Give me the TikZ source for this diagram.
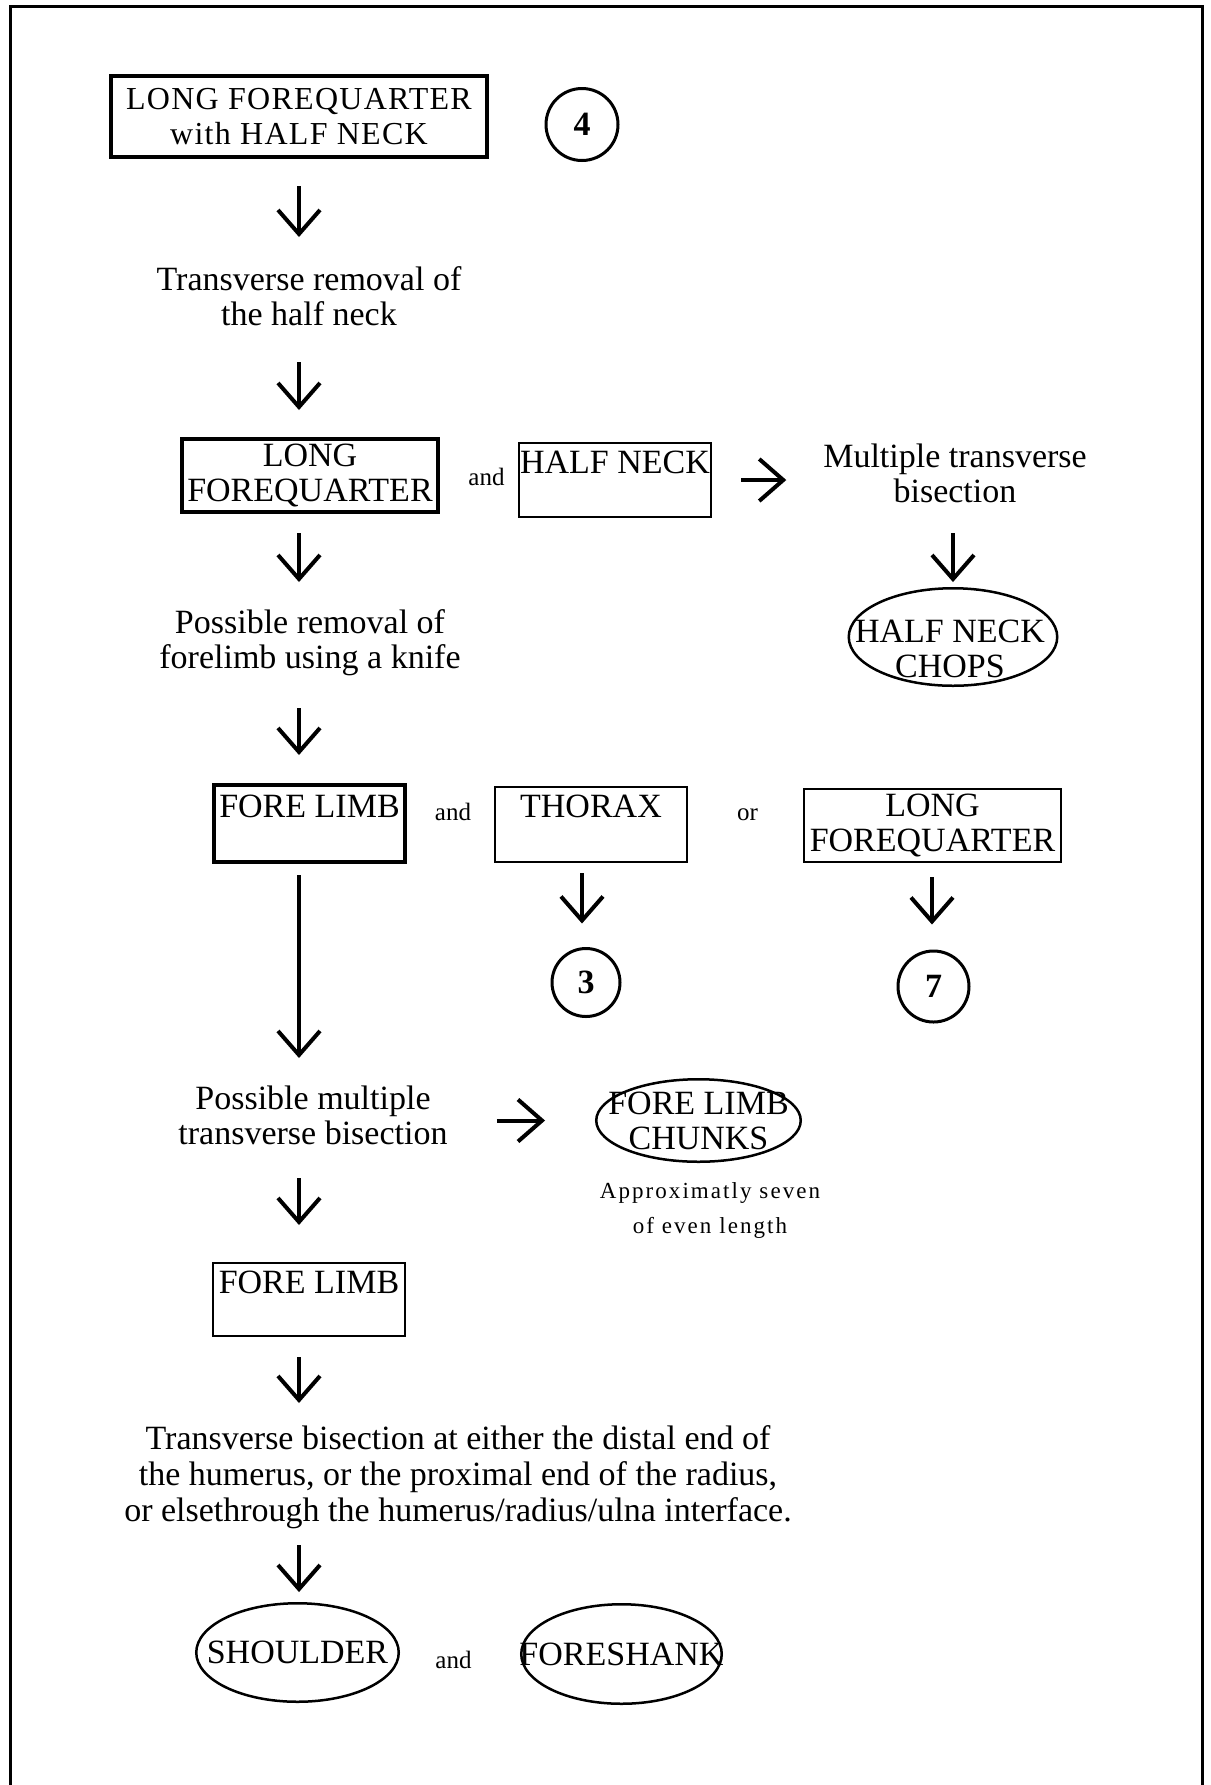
\documentclass[tikz,border=0pt]{standalone}
\usepackage{fontspec}
\setmainfont{Liberation Serif}
\usetikzlibrary{arrows.meta,shapes.geometric}
\begin{document}
\begin{tikzpicture}[x=0.5pt,y=-0.5pt,
  every node/.style={outer sep=0pt},
  big/.style={font=\fontsize{17pt}{17.5pt}\selectfont},
  txt/.style={big, align=center, inner sep=0pt},
  heavybox/.style={draw, line width=2pt, inner sep=0pt, big},
  lightbox/.style={draw, line width=1pt, inner sep=0pt, big},
  oval/.style={draw, ellipse, line width=1.25pt, inner xsep=-20pt, inner ysep=0pt, big, align=center},
  ring/.style={draw, circle, line width=1.5pt, inner sep=0pt, font=\fontsize{17pt}{17.5pt}\selectfont\bfseries},
  conj/.style={font=\fontsize{12.5pt}{13pt}\selectfont, inner sep=0pt, anchor=base},
  note/.style={font=\fontsize{11.5pt}{17.5pt}\selectfont\addfontfeature{LetterSpace=9}, align=center, inner sep=0pt},
  arr/.style={line width=2pt, -{Straight Barb[length=12pt,width=21pt]}}
]
\useasboundingbox (0,0) rectangle (1211,1785);
% page frame, open at the bottom
\draw[line width=1.5pt] (10.5,1800) -- (10.5,6) -- (1202,6) -- (1202,1800);

% column axes for the vertical connectors
\coordinate (colA) at (299,0);
\coordinate (colB) at (953,0);
\coordinate (colC) at (582,0);
\coordinate (colD) at (932,0);

% top of the chart
\node[heavybox, align=center, minimum width=188pt, minimum height=40.5pt,
      font=\fontsize{16pt}{17.5pt}\selectfont\addfontfeature{LetterSpace=4}] (start) at (299,116.5) {LONG FOREQUARTER\\with HALF NECK};
\node[ring, minimum size=36pt] (ref4) at (582,124.5) {4};
\node[txt, minimum height=35pt] (cut1) at (309,296) {Transverse removal of\\the half neck};

% neck removed
\node[heavybox, align=center, minimum width=128pt, minimum height=36.5pt] (lfq) at (310,475.5) {LONG\\FOREQUARTER};
\node[conj] (and1) at (486.5,485) {and};
\node[lightbox, anchor=base, text height=15pt, text depth=22pt, minimum width=96pt] (neck) at (615,473) {HALF NECK};
\node[txt, minimum height=35pt] (cut2) at (955,473) {Multiple transverse\\bisection};
\node[oval, minimum width=104.25pt, minimum height=48.75pt] (chops) at (953,637) {};
\node[txt] (chopsT) at (950,649) {HALF NECK\\CHOPS};
\node[txt, minimum height=40pt] (cut3) at (310,642.6) {Possible removal of\\forelimb using a knife};

% forelimb removed or kept
\node[heavybox, anchor=base, text height=16pt, text depth=22.5pt, minimum width=95.5pt] (limb) at (309.5,817) {FORE LIMB};
\node[conj] (and2) at (453,820) {and};
\node[lightbox, anchor=base, text height=15pt, text depth=22.5pt, minimum width=96pt] (thorax) at (591,817) {THORAX};
\node[conj] (or) at (747.5,820) {or};
\node[lightbox, align=center, minimum width=128.5pt, minimum height=36.5pt] (lfq2) at (932.5,825.5) {LONG\\FOREQUARTER};
\node[ring, minimum size=34pt] (ref3) at (586,982.5) {3};
\node[ring, minimum size=35.5pt] (ref7) at (933.5,986.5) {7};

% forelimb chunks
\node[txt, minimum height=35pt] (cut4) at (313,1115.4) {Possible multiple\\transverse bisection};
\node[oval, minimum width=102.25pt, minimum height=41.25pt] (chunks) at (698.5,1120.5) {FORE LIMB\\CHUNKS};
\node[note] (count) at (710,1210) {Approximatly seven\\of even length};
\node[lightbox, anchor=base, text height=15pt, text depth=21.5pt, minimum width=96pt] (limb2) at (309,1293) {FORE LIMB};
\node[txt, minimum height=60pt, font=\fontsize{17pt}{18pt}\selectfont] (cut5) at (458,1477) {Transverse bisection at either the distal end of\\the humerus, or the proximal end of the radius,\\or elsethrough the humerus/radius/ulna interface.};

% end products
\node[oval, minimum width=101.25pt, minimum height=49.25pt] (shoulder) at (297.5,1652.5) {SHOULDER};
\node[conj] (and3) at (453.5,1668) {and};
\node[oval, minimum width=100.25pt, minimum height=49.75pt] (shank) at (621.5,1654) {FORESHANK};

% connectors
\draw[arr, shorten <=14.5pt, shorten >=12pt]   (colA |- start.south) -- (colA |- cut1.north);
\draw[arr, shorten <=15.5pt, shorten >=14.5pt] (colA |- cut1.south)  -- (colA |- lfq.north);
\draw[arr, shorten <=10.5pt, shorten >=10.3pt] (colA |- lfq.south)   -- (colA |- cut3.north);
\draw[arr, shorten <=15pt, shorten >=18.5pt]   (neck.east) -- (neck.east -| cut2.west);
\draw[arr, shorten <=12.5pt, shorten >=3.1pt]  (colB |- cut2.south)  -- (colB |- chops.north);
\draw[arr, shorten <=12.7pt, shorten >=15pt]   (colA |- cut3.south)  -- (colA |- limb.north);
\draw[arr, shorten <=5.5pt, shorten >=12.5pt]  (colC |- thorax.south) -- (colC |- ref3.north);
\draw[arr, shorten <=7.5pt, shorten >=13.25pt] (colD |- lfq2.south)  -- (colD |- ref7.north);
\draw[arr, shorten <=6.5pt, shorten >=11.2pt]  (colA |- limb.south)  -- (colA |- cut4.north);
\draw[arr, shorten <=24.7pt, shorten >=25.6pt] (chunks.west -| cut4.east) -- (chunks.west);
\draw[arr, shorten <=13.8pt, shorten >=19pt]   (colA |- cut4.south)  -- (colA |- limb2.north);
\draw[arr, shorten <=10.5pt, shorten >=7pt]    (colA |- limb2.south) -- (colA |- cut5.north);
\draw[arr, shorten <=4pt, shorten >=5.6pt]     (colA |- cut5.south)  -- (colA |- shoulder.north);
\end{tikzpicture}
\end{document}
